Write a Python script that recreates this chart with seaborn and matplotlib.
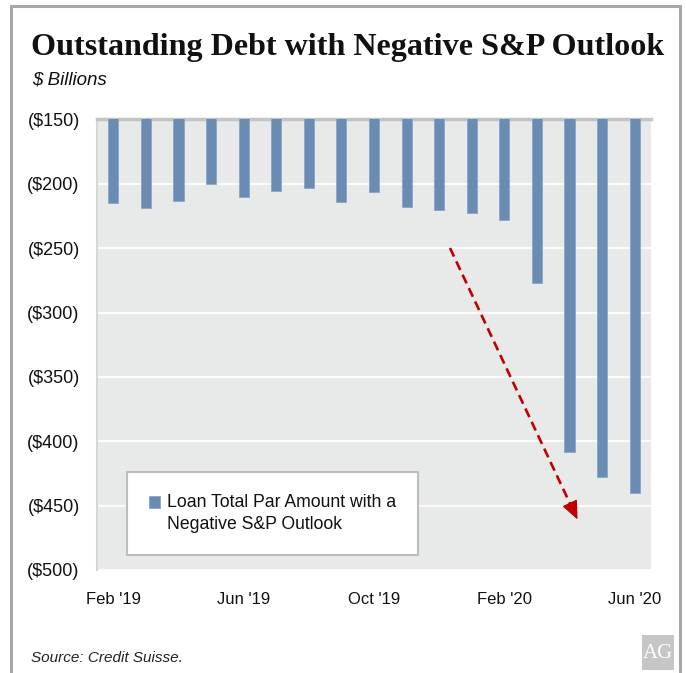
import matplotlib
matplotlib.use("Agg")
import matplotlib.pyplot as plt
from matplotlib.patches import Rectangle, FancyArrowPatch
from matplotlib.lines import Line2D
import seaborn as sns
import pandas as pd
import numpy as np

# Monthly loan par amount carrying a negative S&P outlook ($ billions)
months = ["Feb '19", "Mar '19", "Apr '19", "May '19", "Jun '19", "Jul '19",
          "Aug '19", "Sep '19", "Oct '19", "Nov '19", "Dec '19", "Jan '20",
          "Feb '20", "Mar '20", "Apr '20", "May '20", "Jun '20"]
par_amount = [-215, -219, -213.5, -200.5, -210.5, -205.5, -203.5, -214, -206.5,
              -218, -220.5, -223, -228, -277, -408.5, -427.5, -440.5]
shown_months = ["Feb '19", "Jun '19", "Oct '19", "Feb '20", "Jun '20"]
y_ticks = [-150, -200, -250, -300, -350, -400, -450, -500]
y_tick_labels = ["($150)", "($200)", "($250)", "($300)", "($350)", "($400)",
                 "($450)", "($500)"]

df = pd.DataFrame({"month": months, "amount": par_amount})

sns.set_theme(style="white")
plt.rcParams["font.family"] = ["Liberation Sans", "DejaVu Sans"]

W, H = 686, 673
fig = plt.figure(figsize=(W / 100, H / 100), dpi=100)

# outer frame: open at the bottom
frame_col = "#a8a8a8"
for xs, ys in [([11 / W, 11 / W], [0, 1 - 6 / H]),
               ([11 / W, 680 / W], [1 - 6 / H, 1 - 6 / H]),
               ([680 / W, 680 / W], [1 - 6 / H, 0])]:
    fig.add_artist(Line2D(xs, ys, color=frame_col, lw=2.2, transform=fig.transFigure))

fig.text(31 / W, 1 - 55 / H, "Outstanding Debt with Negative S&P Outlook",
         family=["Liberation Serif", "DejaVu Serif"], weight="bold",
         fontsize=23.1, color="#111111", ha="left", va="baseline")
fig.text(32 / W, 1 - 85 / H, "$ Billions", style="italic", fontsize=13.5,
         color="#111111", ha="left", va="baseline")

ax = fig.add_axes([97 / W, (H - 570) / H, (651 - 97) / W, (570 - 119.4) / H])
ax.set_facecolor("#e8e9e9")

sns.barplot(data=df, x="month", y="amount", color="#6a8cb3", saturation=1,
            width=0.31, edgecolor="#8aa6c6", linewidth=0.6, ax=ax,
            label="Loan Total Par Amount with a\nNegative S&P Outlook", zorder=3)

ax.set_ylim(-500, -150)
ax.set_xlim(-0.5, len(months) - 0.5)
ax.set_yticks(y_ticks)
ax.set_yticklabels(y_tick_labels)
ax.set_xticks([months.index(m) for m in shown_months])
ax.set_xticklabels(shown_months)
ax.tick_params(axis="both", length=0, colors="#111111")
ax.tick_params(axis="y", pad=12.5, labelsize=13)
ax.tick_params(axis="x", pad=16, labelsize=12)
ax.set_xlabel("")
ax.set_ylabel("")
ax.yaxis.grid(True, color="white", lw=1.2, zorder=0)
ax.set_axisbelow(True)
for side in ["right", "bottom"]:
    ax.spines[side].set_visible(False)
ax.spines["top"].set_color("#c4c4c4")
ax.spines["top"].set_linewidth(2.5)
ax.spines["left"].set_color("#d6d6d6")
ax.spines["left"].set_linewidth(1.5)

# trend arrow: dashed shaft plus a solid head (pixel coordinates)
start = np.array([450.0, H - 248.0])
tip = np.array([577.5, H - 519.5])
unit = (tip - start) / np.linalg.norm(tip - start)
head_base = tip - 15 * unit
fig.add_artist(Line2D([start[0], head_base[0]], [start[1], head_base[1]],
                      transform=None, color="#c00000", lw=1.9,
                      linestyle=(0, (3.6, 2.0)), zorder=5))
fig.add_artist(FancyArrowPatch(tuple(tip - 17 * unit), tuple(tip), transform=None,
                               arrowstyle="-|>,head_length=11.5,head_width=5",
                               color="#c00000", lw=1, mutation_scale=1,
                               shrinkA=0, shrinkB=0, zorder=5))

leg = ax.legend(loc="upper left",
                bbox_to_anchor=((127 - 97) / (651 - 97), 1 - (472 - 119.4) / (570 - 119.4)),
                frameon=True, fancybox=False, fontsize=12.7, handlelength=0.62,
                handleheight=0.62, handletextpad=0.35, borderpad=1.27,
                borderaxespad=0)
leg.get_frame().set_edgecolor("#bdbdbd")
leg.get_frame().set_linewidth(1.5)
leg.get_frame().set_facecolor("white")
leg.get_frame().set_alpha(1)
for t in leg.get_texts():
    t.set_linespacing(1.35)
    t.set_color("#111111")
# line the swatch up with the first line of the label
swatch = leg.legend_handles[0]
swatch.set_y(swatch.get_y() + 8.5)

fig.text(31 / W, 1 - 662 / H, "Source: Credit Suisse.", style="italic",
         fontsize=11, color="#222222", ha="left", va="baseline")

# logo badge
fig.add_artist(Rectangle((642 / W, (H - 670) / H), 32 / W, 35 / H,
                         transform=fig.transFigure, color="#c6c6c6", lw=0))
fig.text(658 / W, 1 - 653 / H, "AG", family=["Liberation Serif", "DejaVu Serif"],
         fontsize=15, color="white", ha="center", va="center")

fig.savefig("out.png", dpi=100)
